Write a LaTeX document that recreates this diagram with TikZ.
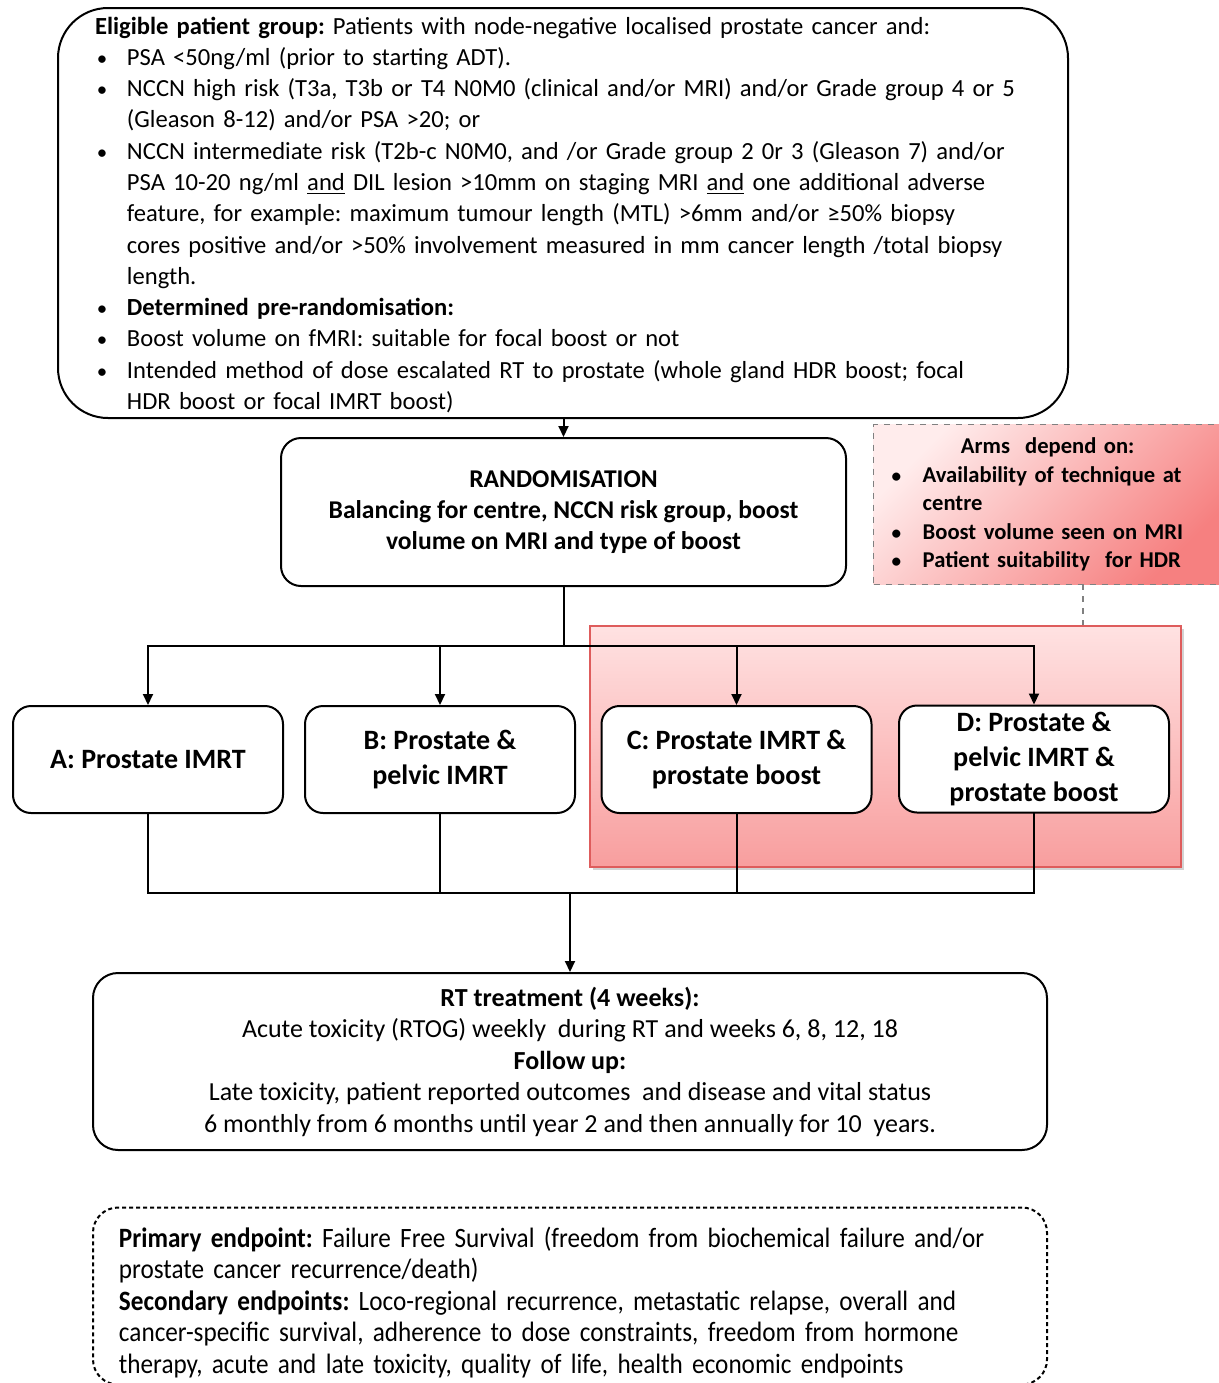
\documentclass[tikz,border=0pt]{standalone}
\usepackage{fontspec}
\setmainfont{Carlito}
\newfontfamily\narrowfont{Carlito}[FakeStretch=0.9]
\usepackage{enumitem}
\usetikzlibrary{arrows.meta,shadows}
\frenchspacing

\definecolor{boostred}{RGB}{222,92,92}
\definecolor{boosttop}{RGB}{255,226,226}
\definecolor{boostbot}{RGB}{248,158,158}
\definecolor{armstop}{RGB}{255,236,236}
\definecolor{armsbot}{RGB}{246,128,128}
\newcommand{\smallbul}{\scalebox{0.85}{\textbullet}}

\begin{document}
\begin{tikzpicture}[x=0.5pt, y=-0.5pt,
  box/.style={draw, line width=1pt, rounded corners=#1, fill=white},
  box/.default=9pt,
  arm/.style={box, minimum width=135pt, minimum height=53.5pt, align=center,
    font=\fontsize{14}{17.3}\selectfont\bfseries},
  link/.style={line width=1pt, line cap=rect},
  arr/.style={line width=1pt, -{Triangle[length=5.5pt,width=5pt]}}]
  \useasboundingbox (0,0) rectangle (1219,1383);

  % shaded group for the boost arms
  \node[draw=boostred, line width=0.8pt, top color=boosttop, bottom color=boostbot,
        drop shadow={shadow xshift=1.5pt, shadow yshift=-1.5pt, opacity=0.35},
        minimum width=295.5pt, minimum height=120.5pt] (boostgrp) at (885.5,746.5) {};

  \node[box=25pt, minimum width=505pt, minimum height=205pt, text width=468pt,
        inner xsep=18.5pt, inner ysep=0pt, align=left,
        font=\fontsize{12.3}{15.65}\selectfont] (elig) at (563,213)
  {\raisebox{0pt}[10.5pt]{}\textbf{Eligible patient group:} Patients with node-negative localised prostate cancer and:
   \begin{itemize}[leftmargin=16pt, labelwidth=9pt, labelsep=6pt, align=left, nosep, label=\smallbul]
   \item PSA <50ng/ml (prior to starting ADT).
   \item NCCN high risk (T3a, T3b or T4 N0M0 (clinical and/or MRI) and/or Grade group 4 or 5\newline
         (Gleason 8-12) and/or PSA >20; or
   \item NCCN intermediate risk (T2b-c N0M0, and /or Grade group 2 0r 3 (Gleason 7) and/or\newline
         PSA 10-20 ng/ml \underline{and} DIL lesion >10mm on staging MRI \underline{and} one additional adverse\newline
         feature, for example: maximum tumour length (MTL) >6mm and/or ≥50\% biopsy\newline
         cores positive and/or >50\% involvement measured in mm cancer length /total biopsy\newline
         length.
   \item \textbf{Determined pre-randomisation:}
   \item Boost volume on fMRI: suitable for focal boost or not
   \item Intended method of dose escalated RT to prostate (whole gland HDR boost; focal\newline
         HDR boost or focal IMRT boost)
   \end{itemize}};

  \node[box=10pt, minimum width=282.5pt, minimum height=74pt, align=center,
        font=\fontsize{12.8}{15.5}\selectfont\bfseries] (rand) at (563.5,512)
  {RANDOMISATION\\Balancing for centre, NCCN risk group, boost\\volume on MRI and type of boost};

  \node[draw=gray, dashed, line width=0.7pt, top color=armstop, bottom color=armsbot,
        shading angle=45, anchor=north west, minimum width=174pt, minimum height=80pt,
        text width=158pt, inner xsep=8pt, align=left,
        font=\fontsize{11.3}{14.25}\selectfont\bfseries] (arms) at (873,424)
  {{\centering Arms\ \ depend on:\par}
   \begin{itemize}[leftmargin=16.5pt, labelwidth=9pt, labelsep=6.5pt, align=left, nosep, label=\smallbul]
   \item Availability of technique at\newline centre
   \item Boost volume seen on MRI
   \item Patient suitability\ \ for HDR
   \end{itemize}};

  \node[arm] (armA) at (148,759.5) {A: Prostate IMRT};
  \node[arm] (armB) at (440,759.5) {B: Prostate \&\\pelvic IMRT};
  \node[arm] (armC) at (736.5,759.5) {C: Prostate IMRT \&\\prostate boost};
  \node[arm] (armD) at (1034,759) {D: Prostate \&\\pelvic IMRT \&\\prostate boost};

  \node[box=12.5pt, minimum width=477pt, minimum height=88.5pt, align=center,
        font=\fontsize{13}{15.75}\selectfont] (rt) at (570,1061.5)
  {\textbf{RT treatment (4 weeks):}\\
   Acute toxicity (RTOG) weekly\ \ during RT and weeks 6, 8, 12, 18\\
   \textbf{Follow up:}\\
   Late toxicity, patient reported outcomes\ \ and disease and vital status\\
   6 monthly from 6 months until year 2 and then annually for 10\ \ years.};

  \node[box=12.5pt, dash pattern=on 2pt off 1.5pt, minimum width=477pt, minimum height=88.5pt,
        text width=451pt, inner xsep=13pt, align=left,
        font=\narrowfont\fontsize{14}{15.75}\selectfont] (endp) at (570,1296)
  {\raisebox{0pt}[16.5pt]{}\textbf{Primary endpoint:} Failure Free Survival (freedom from biochemical failure and/or\\
   prostate cancer recurrence/death)\\
   \textbf{Secondary endpoints:} Loco-regional recurrence, metastatic relapse, overall and\\
   cancer-specific survival, adherence to dose constraints, freedom from hormone\\
   therapy, acute and late toxicity, quality of life, health economic endpoints};

  % connectors
  \coordinate (fork) at (rand.south |- 0,646);
  \coordinate (merge) at (rt.north |- 0,893);
  \coordinate (armsfoot) at (1083,584);
  \draw[arr] (elig.south -| rand.north) -- (rand.north);
  \draw[link] (rand.south) -- (fork);
  \draw[link] (armA.north |- fork) -- (armD.north |- fork);
  \foreach \a in {armA,armB,armC,armD}
    \draw[arr] (\a.north |- fork) -- (\a.north);
  \foreach \a in {armA,armB,armC,armD}
    \draw[link] (\a.south) -- (\a.south |- merge);
  \draw[link] (armA.south |- merge) -- (armD.south |- merge);
  \draw[arr] (merge) -- (rt.north);
  \draw[gray, dashed, line width=0.7pt] (armsfoot) -- (armsfoot |- boostgrp.north);
\end{tikzpicture}
\end{document}
